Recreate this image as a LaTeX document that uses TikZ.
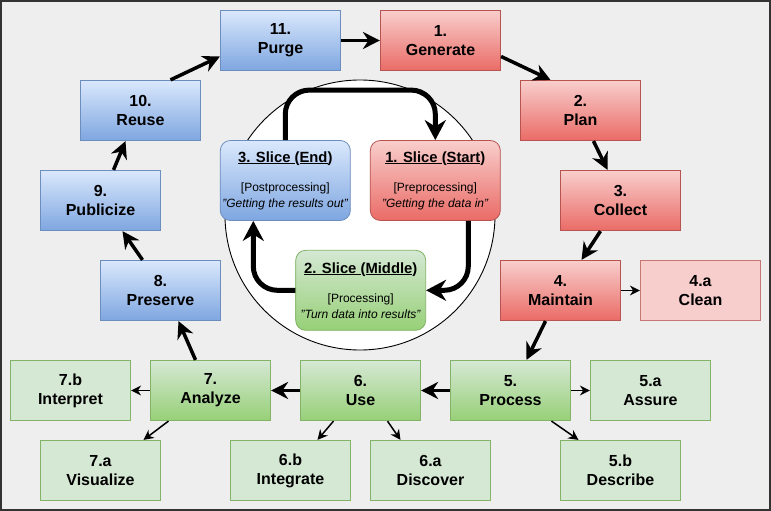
\documentclass[tikz,border=0pt]{standalone}
\usepackage{fontspec}
\setmainfont{Liberation Sans}
\usetikzlibrary{arrows.meta}

\definecolor{redtop}{HTML}{F8CECC}
\definecolor{redbot}{HTML}{EA6B66}
\definecolor{redline}{HTML}{B85450}
\definecolor{bluetop}{HTML}{DAE8FC}
\definecolor{bluebot}{HTML}{7EA6E0}
\definecolor{blueline}{HTML}{6C8EBF}
\definecolor{greentop}{HTML}{D5E8D4}
\definecolor{greenbot}{HTML}{97D077}
\definecolor{greenline}{HTML}{82B366}
\definecolor{bgcol}{HTML}{EEEEEE}
\definecolor{framecol}{HTML}{333333}

\newcommand{\slicetitle}[1]{{\fontsize{14.8}{17}\selectfont\bfseries #1}}

\tikzset{
  stage/.style={minimum width=120pt, minimum height=60pt, inner sep=0pt, line width=1.2pt,
    align=center, font=\fontsize{16}{19}\selectfont\bfseries},
  redstage/.style={stage, draw=redline, top color=redtop, bottom color=redbot},
  bluestage/.style={stage, draw=blueline, top color=bluetop, bottom color=bluebot},
  greenstage/.style={stage, draw=greenline, top color=greentop, bottom color=greenbot},
  redsub/.style={stage, draw=redline!80, fill=redtop},
  greensub/.style={stage, draw=greenline, fill=greentop},
  slice/.style={minimum width=130pt, minimum height=80pt, inner sep=0pt, rounded corners=10pt,
    line width=0.8pt, align=center, font=\fontsize{12}{16}\selectfont},
  bigarrow/.style={line width=3.5pt, -{Stealth[length=17pt,width=17pt]}},
  smallarrow/.style={line width=1.5pt, -{Stealth[length=10pt,width=10pt]}},
  looparrow/.style={line width=5pt, rounded corners=24pt, -{Stealth[length=20pt,width=21pt]}}
}

\begin{document}
\begin{tikzpicture}[x=1pt,y=-1pt]
\useasboundingbox (0,0) rectangle (771,511);
\fill[bgcol] (0,0) rectangle (771,511);
\draw[framecol, line width=1.6pt] (0.8,0.8) rectangle (770.2,510.2);

% inner cycle
\draw[line width=0.9pt, fill=white] (360,215) circle (135);
\node[slice, draw=redline, top color=redtop, bottom color=redbot] (sstart) at (435.3,180.5)
  {\slicetitle{\underline{1. Slice }(\underline{Start})}\\[13pt] [Preprocessing]\\ \textit{"Getting the data in"}};
\node[slice, draw=greenline, top color=greentop, bottom color=greenbot] (smid) at (360.7,290.3)
  {\slicetitle{\underline{2. Slice }(\underline{Middle})}\\[13pt] [Processing]\\ \textit{"Turn data into results"}};
\node[slice, draw=blueline, top color=bluetop, bottom color=bluebot] (send) at (285.3,180.5)
  {\slicetitle{\underline{3. Slice }(\underline{End})}\\[13pt] [Postprocessing]\\ \textit{"Getting the results out"}};
\draw[looparrow] (send.north) -- ++(0,-50) -| (sstart.north);
\draw[looparrow] ([xshift=33pt]sstart.south) |- (smid.east);
\draw[looparrow] (smid.west) -| ([xshift=-32pt]send.south);

% outer cycle
\node[redstage] (gen) at (440.5,40.5) {1.\\Generate};
\node[redstage] (plan) at (580.5,110.5) {2.\\Plan};
\node[redstage] (coll) at (620.5,200.5) {3.\\Collect};
\node[redstage] (maint) at (560.5,290.5) {4.\\Maintain};
\node[redsub] (clean) at (700.5,290.5) {4.a\\Clean};
\node[greenstage] (proc) at (510.5,390.5) {5.\\Process};
\node[greensub] (assure) at (650.5,390.5) {5.a\\Assure};
\node[greensub] (descr) at (620.5,470.5) {5.b\\Describe};
\node[greenstage] (use) at (360.5,390.5) {6.\\Use};
\node[greensub] (disc) at (430.5,470.5) {6.a\\Discover};
\node[greensub] (integ) at (290.5,470.5) {6.b\\Integrate};
\node[greenstage] (anal) at (210.5,390.5) {7.\\Analyze};
\node[greensub] (visu) at (100.5,470.5) {7.a\\Visualize};
\node[greensub] (interp) at (70.5,390.5) {7.b\\Interpret};
\node[bluestage] (pres) at (160.5,290.5) {8.\\Preserve};
\node[bluestage] (publ) at (100.5,200.5) {9.\\Publicize};
\node[bluestage] (reuse) at (140.5,110.5) {10.\\Reuse};
\node[bluestage] (purge) at (280.5,40.5) {11.\\Purge};

\draw[bigarrow] (purge.east) -- (gen.west);
\draw[bigarrow] ([yshift=-16pt]gen.east) -- ([xshift=-30pt]plan.north);
\draw[bigarrow] ([xshift=13pt]plan.south) -- ([xshift=-13pt]coll.north);
\draw[bigarrow] ([xshift=-20pt]coll.south) -- ([xshift=21pt]maint.north);
\draw[smallarrow] (maint.east) -- (clean.west);
\draw[bigarrow] ([xshift=-15pt]maint.south) -- ([xshift=16pt]proc.north);
\draw[smallarrow] (proc.east) -- (assure.west);
\draw[smallarrow] ([xshift=41pt]proc.south) -- ([xshift=-42pt]descr.north);
\draw[bigarrow] (proc.west) -- (use.east);
\draw[smallarrow] ([xshift=27pt]use.south) -- ([xshift=-30pt]disc.north);
\draw[smallarrow] ([xshift=-27pt]use.south) -- ([xshift=27pt]integ.north);
\draw[bigarrow] (use.west) -- (anal.east);
\draw[smallarrow] (anal.west) -- (interp.east);
\draw[smallarrow] ([xshift=-42pt]anal.south) -- ([xshift=43pt]visu.north);
\draw[bigarrow] ([xshift=-15pt]anal.north) -- ([xshift=18pt]pres.south);
\draw[bigarrow] ([xshift=-18pt]pres.north) -- ([xshift=22pt]publ.south);
\draw[bigarrow] ([xshift=13pt]publ.north) -- ([xshift=-15pt]reuse.south);
\draw[bigarrow] ([xshift=30pt]reuse.north) -- ([yshift=-16pt]purge.west);
\end{tikzpicture}
\end{document}
